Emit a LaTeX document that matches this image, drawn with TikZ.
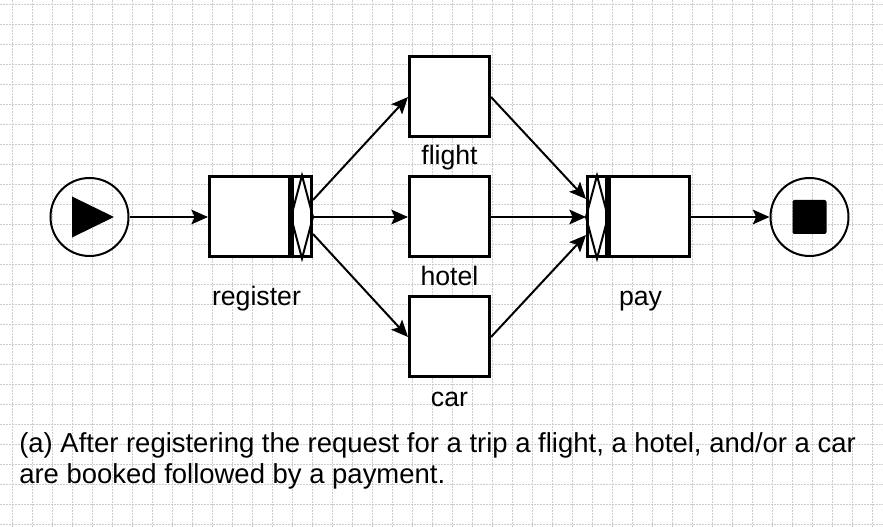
\documentclass[tikz,border=0pt]{standalone}
\usepackage{fontspec}
\setmainfont{Liberation Sans}
\usetikzlibrary{arrows.meta,positioning}

\begin{document}
\begin{tikzpicture}[x=0.75pt,y=-0.75pt]
 \tikzstyle{every node}=[inner sep=0pt]
 \tikzstyle{task} = [draw,line width=2.25pt,fill=white,minimum width=60pt,minimum height=60pt]
 \tikzstyle{split} = [draw,line width=2.25pt,fill=white,minimum width=14.25pt,minimum height=60pt]
 \tikzstyle{event} = [draw,circle,line width=1.5pt,minimum size=58.5pt]
 \tikzstyle{lbl} = [anchor=base,font=\fontsize{20}{24}\selectfont]
 \tikzstyle{captext} = [anchor=base west,font=\fontsize{20.6}{24}\selectfont]
 \tikzstyle{l} = [draw,line width=1.5pt,-{Stealth[length=12.5pt,width=11pt,inset=2.5pt]}]
 \tikzstyle{g} = [draw,gray!40,line width=0.75pt,dash pattern=on 1.5pt off 0.75pt]
 \useasboundingbox (0,0) rectangle (883,527);
 \fill[white] (0,0) rectangle (883,527);
 % grid
 \foreach \x in {12,32,...,872} \path[g] (\x,0) -- (\x,527);
 \foreach \y in {5,25,...,525} \path[g] (0,\y) -- (883,\y);

 \draw
 (89.5,217) node[event] (start) {}
 (start) ++(160,0) node[task] (register) {}
 (register) ++(200,-120) node[task] (flight) {}
 (register) ++(200,0) node[task] (hotel) {}
 (register) ++(200,120) node[task] (car) {}
 (hotel) ++(200,0) node[task] (pay) {}
 (pay) ++(160,0) node[event] (stop) {}
 ;
 \node[split, right=0pt of register] (regsplit) {};
 \node[split, left=0pt of pay] (paysplit) {};

 % xor/and markers
 \draw[line width=1.5pt] (regsplit.north) -- (regsplit.east) -- (regsplit.south) -- (regsplit.west) -- cycle;
 \draw[line width=1.5pt] (paysplit.north) -- (paysplit.east) -- (paysplit.south) -- (paysplit.west) -- cycle;
 \fill (start.center) ++(-17.5,-20.5) -- ++(0,41) -- ++(42,-20.5) -- cycle;
 \fill[rounded corners=1.5pt] (stop.center) ++(-17,-17) rectangle ++(34,34);

 \path
 (register.south) ++(7,47) node[lbl] (reglbl) {register}
 (flight.south) ++(0,26) node[lbl] (flightlbl) {flight}
 (hotel.south) ++(0,27) node[lbl] (hotellbl) {hotel}
 (car.south) ++(0,28) node[lbl] (carlbl) {car}
 (pay.south) ++(-9,47) node[lbl] (paylbl) {pay}
 ;

 \path [l] (start) -- (register);
 \path [l] ([yshift=12.75pt]regsplit.east) -- (flight.west);
 \path [l] (regsplit) -- (hotel);
 \path [l] ([yshift=-12.75pt]regsplit.east) -- (car.west);
 \path [l] (flight.east) -- ([yshift=13.5pt]paysplit.west);
 \path [l] (hotel) -- (paysplit);
 \path [l] (car.east) -- ([yshift=-13.5pt]paysplit.west);
 \path [l] (pay) -- (stop);

 \path
 (19,453) node[captext] (captop) {(a) After registering the request for a trip a flight, a hotel, and/or a car}
 (19,484) node[captext] (capbot) {are booked followed by a payment.}
 ;
\end{tikzpicture}
\end{document}
